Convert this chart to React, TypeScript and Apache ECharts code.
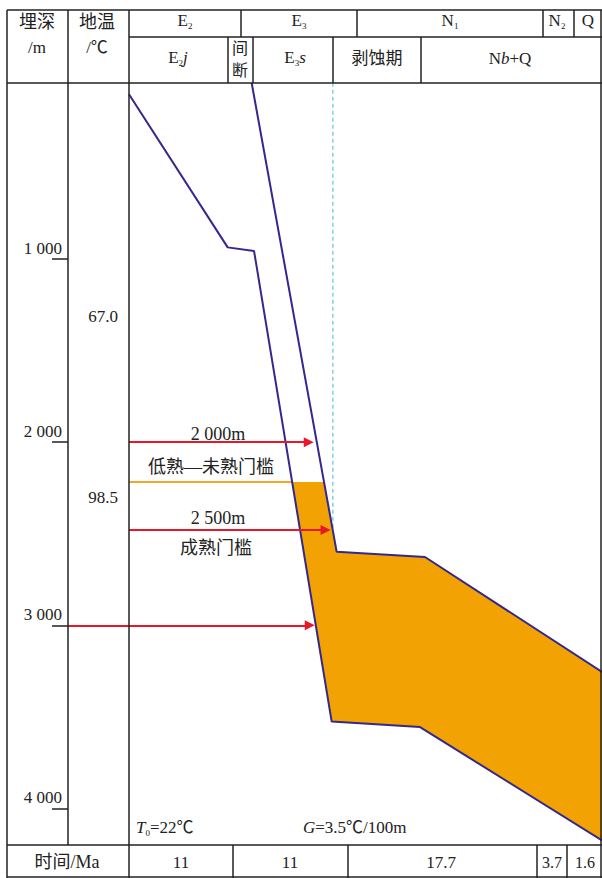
import React, { useEffect, useRef } from 'react';
import * as echarts from 'echarts';

// x: time in Ma counted from the start of E2j deposition; y: burial depth in m
const burialE2jTime = [0, 9.39, 11.9, 19.28, 27.69, 45];
const burialE2jDepth = [100, 936, 956, 3525, 3556, 4175];
const burialE3sTime = [11.67, 19.76, 28.16, 45];
const burialE3sDepth = [37, 2599, 2627, 3255];
const windowTime = [15.52, 18.55, 19.76, 28.16, 45, 45, 27.69, 19.28];
const windowDepth = [2217, 2217, 2599, 2627, 3255, 4175, 3556, 3525];
const lowThresholdDepth = 2217;
const lowThresholdEnd = 15.52;
const arrowDepths = [2000, 2480, 3000];
const arrowStart = [0, 0, -5.8];
const arrowEnd = [17.1, 18.7, 17.2];
const erosionTime = 19.4;
const erosionDepths = [37, 2485];
const depthTicks = [1000, 2000, 3000, 4000];
const timeMin = -5.8;
const timeMax = 45;
const depthMax = 4200;
const durations = ['11', '11', '17.7', '3.7', '1.6'];
const tempLabels = ['67.0', '98.5'];

const FONT = "'Liberation Serif','Times New Roman','Noto Sans CJK SC',serif";
const INK = '#222';

const hline = (x1: number, x2: number, y: number) => ({
  type: 'line', silent: true, z: 50,
  shape: { x1, y1: y, x2, y2: y },
  style: { stroke: INK, lineWidth: 1.5 },
});
const vline = (x: number, y1: number, y2: number) => ({
  type: 'line', silent: true, z: 50,
  shape: { x1: x, y1, x2: x, y2 },
  style: { stroke: INK, lineWidth: 1.5 },
});
const txt = (text: string, x: number, y: number, size = 16, align = 'center') => ({
  type: 'text', silent: true, z: 60, x, y,
  style: { text, fontSize: size, fontFamily: FONT, fill: INK, align, verticalAlign: 'middle' },
});
const rich = (text: string, x: number, y: number, size = 16, align = 'center') => ({
  type: 'text', silent: true, z: 60, x, y,
  style: {
    text, align, verticalAlign: 'middle', fill: INK,
    rich: {
      n: { fontSize: size, fontFamily: FONT, fill: INK, lineHeight: size + 4, verticalAlign: 'middle' },
      i: { fontSize: size, fontFamily: FONT, fontStyle: 'italic', fill: INK, lineHeight: size + 4, verticalAlign: 'middle' },
      s: { fontSize: Math.round(size * 0.55), fontFamily: FONT, fill: INK, verticalAlign: 'bottom', lineHeight: Math.round(size * 0.55) },
    },
  },
});

export default function App() {
  const ref = useRef<HTMLDivElement>(null);
  useEffect(() => {
    document.body.style.margin = '0';
    const chart = echarts.init(ref.current!, null, { renderer: 'svg' });
    const graphic: any[] = [
      // frame
      hline(7, 602, 10), hline(129, 602, 37), hline(7, 602, 83), hline(7, 602, 845), hline(7, 602, 877),
      vline(7, 10, 878), vline(68, 10, 845), vline(129, 10, 878), vline(601, 10, 878),
      vline(241, 10, 37), vline(357, 10, 37), vline(543, 10, 37), vline(574, 10, 37),
      vline(228, 37, 83), vline(253, 37, 83), vline(333, 37, 83), vline(421, 37, 83),
      vline(233, 845, 878), vline(348, 845, 878), vline(537, 845, 878), vline(567, 845, 878),
      // header text
      txt('埋深', 37, 22, 18), txt('/m', 37, 47, 17),
      txt('地温', 97, 22, 18), txt('/℃', 97, 47, 17),
      rich('{n|E}{s|2}', 185, 20, 17), rich('{n|E}{s|3}', 299, 20, 17), rich('{n|N}{s|1}', 450, 20, 17),
      rich('{n|N}{s|2}', 557, 20, 17), rich('{n|Q}', 588, 20, 17),
      rich('{n|E}{s|2}{i|j}', 178, 57, 17), txt('间', 240, 48, 16), txt('断', 240, 70, 16),
      rich('{n|E}{s|3}{i|s}', 295, 57, 17), txt('剥蚀期', 377, 58, 17), rich('{n|N}{i|b}{n|+Q}', 510, 58, 17),
      // bottom row
      txt('时间/Ma', 67, 862, 18),
      txt(durations[0], 181, 862, 17), txt(durations[1], 290, 862, 17), txt(durations[2], 441, 862, 17),
      txt(durations[3], 552, 862, 16), txt(durations[4], 585, 862, 16),
      // temperatures
      txt(tempLabels[0], 103, 316, 17), txt(tempLabels[1], 103, 497, 17),
      // annotations
      txt('2 000m', 218, 434, 18), txt('低熟—未熟门槛', 211, 467, 18),
      txt('2 500m', 218, 518, 18), txt('成熟门槛', 216, 548, 18),
      rich('{i|T}{s|0}{n|=22℃}', 136, 827, 17, 'left'),
      rich('{i|G}{n|=3.5℃/100m}', 303, 827, 17, 'left'),
    ];

    const arrows = arrowDepths.map((d, i) => [
      { coord: [arrowStart[i], d] },
      { coord: [arrowEnd[i], d] },
    ]);

    chart.setOption({
      animation: false,
      grid: { left: 68, right: 0, top: 76, bottom: 33 },
      xAxis: { type: 'value', min: timeMin, max: timeMax, show: false },
      yAxis: {
        type: 'value', inverse: true, min: 0, max: depthMax,
        axisLine: { show: false, onZero: false }, splitLine: { show: false },
        axisTick: { show: true, inside: false, length: 16, customValues: depthTicks, lineStyle: { color: INK, width: 1.5 } },
        axisLabel: {
          customValues: depthTicks, margin: 6, verticalAlign: 'bottom', padding: [0, 0, 2, 0],
          fontSize: 17, fontFamily: FONT, color: INK,
          formatter: (v: number) => String(v).replace(/(\d)(\d{3})$/, '$1 $2'),
        },
      },
      graphic,
      series: [
        {
          type: 'custom', coordinateSystem: 'cartesian2d', silent: true, z: 1,
          data: windowTime.map((t, i) => [t, windowDepth[i]]),
          renderItem: (params: any, api: any) => {
            if (params.dataIndex !== 0) return null;
            const pts = windowTime.map((t, i) => api.coord([t, windowDepth[i]]));
            return { type: 'polygon', shape: { points: pts }, style: { fill: '#F2A203' } };
          },
        },
        {
          type: 'line', symbol: 'none', silent: true, z: 2,
          data: [[0, lowThresholdDepth], [lowThresholdEnd, lowThresholdDepth]],
          lineStyle: { color: '#F5A52A', width: 2 },
        },
        {
          type: 'line', symbol: 'none', silent: true, z: 2,
          data: erosionDepths.map((d) => [erosionTime, d]),
          lineStyle: { color: '#45B5D6', width: 1, type: [4, 3] },
        },
        {
          type: 'line', symbol: 'none', silent: true, z: 3,
          data: burialE2jTime.map((t, i) => [t, burialE2jDepth[i]]),
          lineStyle: { color: '#33288C', width: 2 },
        },
        {
          type: 'line', symbol: 'none', silent: true, z: 3,
          data: burialE3sTime.map((t, i) => [t, burialE3sDepth[i]]),
          lineStyle: { color: '#33288C', width: 2 },
        },
        {
          type: 'line', data: [], silent: true, z: 4,
          markLine: {
            silent: true, animation: false,
            symbol: ['none', 'triangle'], symbolSize: 10,
            label: { show: false },
            lineStyle: { color: '#E8182B', width: 2, type: 'solid' },
            data: arrows,
          },
        },
      ],
    });
    return () => chart.dispose();
  }, []);
  return <div ref={ref} style={{ width: 602, height: 878 }} />;
}
